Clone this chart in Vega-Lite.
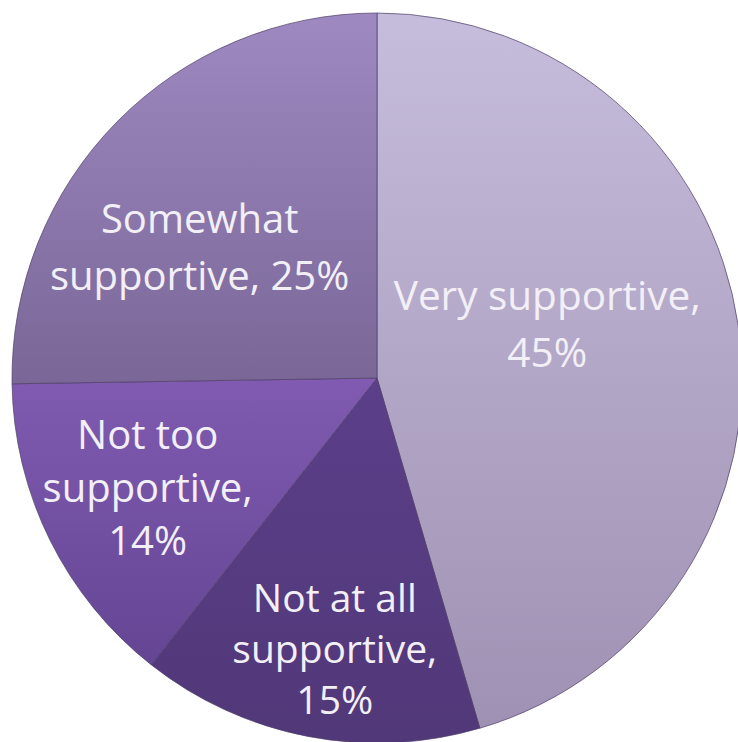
{
  "$schema": "https://vega.github.io/schema/vega-lite/v6.json",
  "width": 722,
  "height": 728,
  "autosize": {"type": "none"},
  "padding": {"left": 16, "top": 14, "right": 0, "bottom": 0},
  "background": "white",
  "config": {"view": {"stroke": null}},
  "data": {
    "values": [
      {"category": "Very supportive", "value": 45, "order": 1, "label": "Very supportive,\n45%"},
      {"category": "Not at all supportive", "value": 15, "order": 2, "label": "Not at all\nsupportive,\n15%"},
      {"category": "Not too supportive", "value": 14, "order": 3, "label": "Not too\nsupportive,\n14%"},
      {"category": "Somewhat supportive", "value": 25, "order": 4, "label": "Somewhat\nsupportive, 25%"}
    ]
  },
  "encoding": {
    "theta": {"field": "value", "type": "quantitative", "stack": true},
    "order": {"field": "order", "type": "quantitative"}
  },
  "layer": [
    {
      "mark": {"type": "arc", "outerRadius": 365, "stroke": "#4f3f66", "strokeWidth": 1, "strokeOpacity": 0.7},
      "encoding": {
        "fill": {
          "condition": [
            {"test": "datum.category === 'Very supportive'", "value": {"gradient": "linear", "x1": 0, "y1": 0, "x2": 0, "y2": 1, "stops": [{"offset": 0, "color": "#c6bcdb"}, {"offset": 1, "color": "#9f91b3"}]}},
            {"test": "datum.category === 'Not at all supportive'", "value": {"gradient": "linear", "x1": 0, "y1": 0, "x2": 0, "y2": 1, "stops": [{"offset": 0, "color": "#5b3f8a"}, {"offset": 1, "color": "#513878"}]}},
            {"test": "datum.category === 'Not too supportive'", "value": {"gradient": "linear", "x1": 0, "y1": 0, "x2": 0, "y2": 1, "stops": [{"offset": 0, "color": "#805bb1"}, {"offset": 1, "color": "#644593"}]}}
          ],
          "value": {"gradient": "linear", "x1": 0, "y1": 0, "x2": 0, "y2": 1, "stops": [{"offset": 0, "color": "#9e89c1"}, {"offset": 1, "color": "#7a6797"}]}
        }
      }
    },
    {
      "mark": {"type": "text", "radius": 175, "dx": -3, "dy": -55, "lineBreak": "\n", "font": "Open Sans", "fontSize": 40.5, "lineHeight": 57, "fill": "#f3eff7", "align": "center", "baseline": "middle"},
      "encoding": {"text": {"condition": {"test": "datum.category === 'Very supportive'", "field": "label"}, "value": ""}}
    },
    {
      "mark": {"type": "text", "radius": 225, "dx": -17, "dy": 1, "lineBreak": "\n", "font": "Open Sans", "fontSize": 40, "lineHeight": 57, "fill": "#f3eff7", "align": "center", "baseline": "middle"},
      "encoding": {"text": {"condition": {"test": "datum.category === 'Somewhat supportive'", "field": "label"}, "value": ""}}
    },
    {
      "mark": {"type": "text", "radius": 256, "dx": 0, "dy": -55, "lineBreak": "\n", "font": "Open Sans", "fontSize": 40, "lineHeight": 53, "fill": "#f3eff7", "align": "center", "baseline": "middle"},
      "encoding": {"text": {"condition": {"test": "datum.category === 'Not too supportive'", "field": "label"}, "value": ""}}
    },
    {
      "mark": {"type": "text", "radius": 276, "dx": 10, "dy": -49, "lineBreak": "\n", "font": "Open Sans", "fontSize": 39, "lineHeight": 51, "fill": "#f3eff7", "align": "center", "baseline": "middle"},
      "encoding": {"text": {"condition": {"test": "datum.category === 'Not at all supportive'", "field": "label"}, "value": ""}}
    }
  ]
}
